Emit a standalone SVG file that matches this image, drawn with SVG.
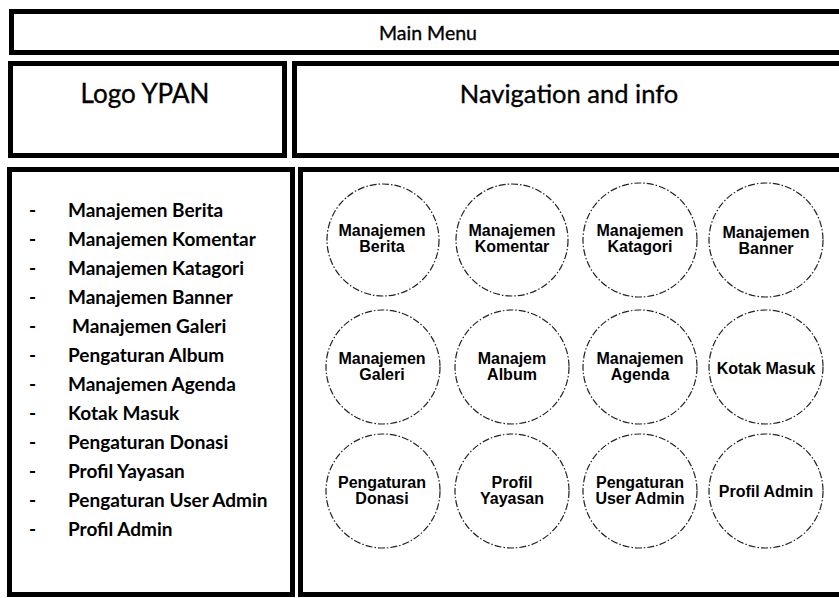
<svg xmlns="http://www.w3.org/2000/svg" width="839" height="598" viewBox="0 0 839 598">
<defs>
<style>
.box{fill:#fff;stroke:#000;stroke-width:5}
.hd{font-family:Lato,"Liberation Sans",sans-serif;fill:#000;stroke:#000;stroke-width:0.35;text-anchor:middle}
.li{font-family:Lato,"Liberation Sans",sans-serif;font-weight:bold;font-size:19px;fill:#000}
.c{fill:#fff;stroke:#222;stroke-width:1.2;stroke-dasharray:7 2 1.5 2}
.ct{font-family:"Liberation Sans",Arial,sans-serif;font-weight:bold;font-size:16px;fill:#000;text-anchor:middle}
</style>
</defs>
<rect width="839" height="598" fill="#fff"/>
<g id="main-menu">
<rect class="box" x="11.5" y="11.5" width="840" height="41"/>
<text class="hd" x="428" y="40" font-size="19.5">Main Menu</text>
</g>
<g id="logo">
<rect class="box" x="10.5" y="63.5" width="274" height="92"/>
<text class="hd" x="145" y="103" font-size="26">Logo YPAN</text>
</g>
<g id="nav">
<rect class="box" x="294.5" y="63.5" width="560" height="92"/>
<text class="hd" x="569" y="103" font-size="25.5">Navigation and info</text>
</g>
<g id="menu-list">
<rect class="box" x="9.5" y="169.5" width="283" height="425"/>
<g class="li">
<text x="29" y="217">-</text><text x="68" y="217">Manajemen Berita</text>
<text x="29" y="246">-</text><text x="68" y="246">Manajemen Komentar</text>
<text x="29" y="275">-</text><text x="68" y="275">Manajemen Katagori</text>
<text x="29" y="304">-</text><text x="68" y="304">Manajemen Banner</text>
<text x="29" y="333">-</text><text x="72" y="333">Manajemen Galeri</text>
<text x="29" y="362">-</text><text x="68" y="362">Pengaturan Album</text>
<text x="29" y="391">-</text><text x="68" y="391">Manajemen Agenda</text>
<text x="29" y="420">-</text><text x="68" y="420">Kotak Masuk</text>
<text x="29" y="449">-</text><text x="68" y="449">Pengaturan Donasi</text>
<text x="29" y="478">-</text><text x="68" y="478">Profil Yayasan</text>
<text x="29" y="507">-</text><text x="68" y="507">Pengaturan User Admin</text>
<text x="29" y="536">-</text><text x="68" y="536">Profil Admin</text>
</g>
</g>
<g id="panel">
<rect class="box" x="300.5" y="169.5" width="560" height="425"/>
</g>
<g id="connectors"></g>
<g id="n-berita"><circle class="c" cx="383" cy="240" r="56"/><text class="ct" x="382" y="236">Manajemen</text><text class="ct" x="382" y="252">Berita</text></g>
<g id="n-komentar"><circle class="c" cx="512" cy="240" r="56"/><text class="ct" x="512" y="236">Manajemen</text><text class="ct" x="512" y="252">Komentar</text></g>
<g id="n-katagori"><circle class="c" cx="640" cy="240" r="57"/><text class="ct" x="640" y="236">Manajemen</text><text class="ct" x="640" y="252">Katagori</text></g>
<g id="n-banner"><circle class="c" cx="766" cy="240" r="57"/><text class="ct" x="766" y="238">Manajemen</text><text class="ct" x="766" y="254">Banner</text></g>
<g id="n-galeri"><circle class="c" cx="383" cy="367" r="57"/><text class="ct" x="382" y="364">Manajemen</text><text class="ct" x="382" y="380">Galeri</text></g>
<g id="n-album"><circle class="c" cx="512" cy="367" r="57"/><text class="ct" x="512" y="364">Manajem</text><text class="ct" x="512" y="380">Album</text></g>
<g id="n-agenda"><circle class="c" cx="640" cy="367" r="57"/><text class="ct" x="640" y="364">Manajemen</text><text class="ct" x="640" y="380">Agenda</text></g>
<g id="n-kotak"><circle class="c" cx="766" cy="367" r="57"/><text class="ct" x="766" y="374">Kotak Masuk</text></g>
<g id="n-donasi"><circle class="c" cx="383" cy="491" r="57"/><text class="ct" x="382" y="488">Pengaturan</text><text class="ct" x="382" y="504">Donasi</text></g>
<g id="n-yayasan"><circle class="c" cx="512" cy="491" r="57"/><text class="ct" x="512" y="488">Profil</text><text class="ct" x="512" y="504">Yayasan</text></g>
<g id="n-useradmin"><circle class="c" cx="640" cy="491" r="57"/><text class="ct" x="640" y="488">Pengaturan</text><text class="ct" x="640" y="504">User Admin</text></g>
<g id="n-profiladmin"><circle class="c" cx="766" cy="491" r="57"/><text class="ct" x="766" y="497">Profil Admin</text></g>
</svg>
